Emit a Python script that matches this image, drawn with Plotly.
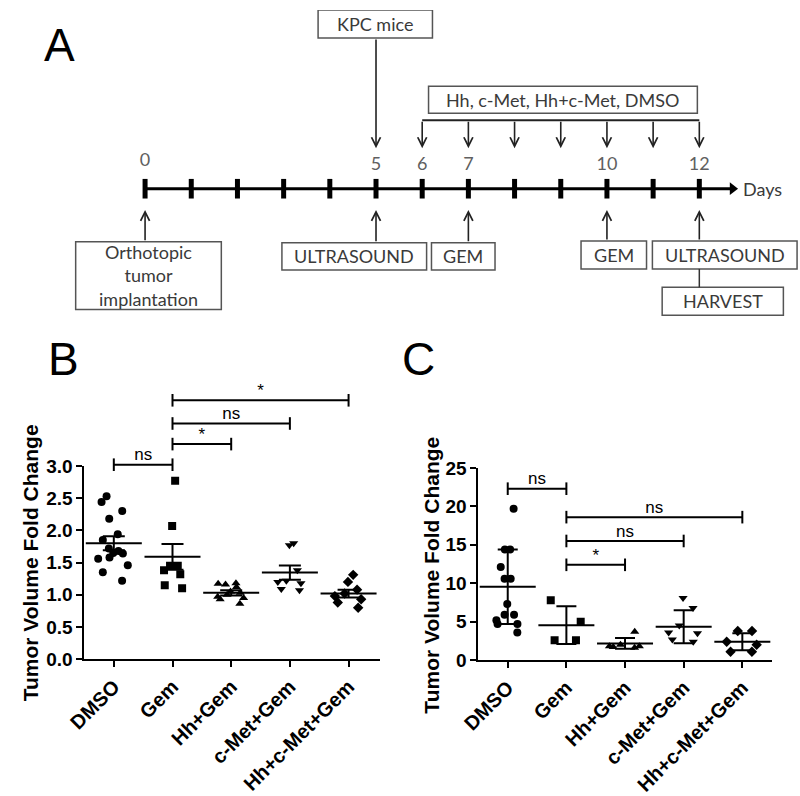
import plotly.graph_objects as go

# ---------------- data ----------------
groups = ["DMSO", "Gem", "Hh+Gem", "c-Met+Gem", "Hh+c-Met+Gem"]
symbols = ["circle", "square", "triangle-up", "triangle-down", "diamond"]

# Panel B: tumor volume fold change (mean +/- SEM)
b_dmso = [2.53, 2.44, 2.30, 2.18, 1.94, 1.85, 1.72, 1.68, 1.65, 1.64, 1.58, 1.56, 1.46, 1.35, 1.22]
b_gem = [2.77, 2.07, 1.45, 1.45, 1.38, 1.32, 1.15, 1.10]
b_hh = [1.18, 1.17, 1.16, 1.12, 1.05, 1.03, 1.00, 0.97, 0.95, 0.93, 0.86]
b_cmet = [1.80, 1.77, 1.38, 1.22, 1.20, 1.18, 1.09, 1.07]
b_hhcmet = [1.31, 1.20, 1.08, 1.02, 0.98, 0.93, 0.88, 0.80]
b_mean = [1.80, 1.59, 1.03, 1.345, 1.02]
b_err = [0.11, 0.20, 0.04, 0.11, 0.06]
b_sig_pairs = [(0, 1), (1, 2), (1, 3), (1, 4)]
b_sig_y = [3.02, 3.34, 3.66, 4.02]
b_sig_text = ["ns", "*", "ns", "*"]
b_yticks = [0.0, 0.5, 1.0, 1.5, 2.0, 2.5, 3.0]

# Panel C: tumor volume fold change (mean +/- SD)
c_dmso = [19.7, 14.4, 14.4, 12.1, 10.6, 10.6, 7.3, 5.9, 5.9, 5.2, 4.7, 4.7, 3.6]
c_gem = [7.8, 5.0, 2.6, 2.6]
c_hh = [3.7, 2.0, 1.8, 1.7, 1.6, 1.8]
c_cmet = [8.1, 6.8, 4.5, 3.6, 3.5, 2.7, 2.4]
c_hhcmet = [3.8, 3.8, 2.4, 2.0, 1.1, 1.1]
c_mean = [9.55, 4.55, 2.17, 4.35, 2.4]
c_err = [4.85, 2.45, 0.7, 2.15, 1.1]
c_sig_pairs = [(0, 1), (1, 2), (1, 3), (1, 4)]
c_sig_y = [22.3, 12.4, 15.5, 18.6]
c_sig_text = ["ns", "*", "ns", "ns"]
c_yticks = [0, 5, 10, 15, 20, 25]

# Panel A: timeline
timeline_days = list(range(13))
labeled_days = [0, 5, 6, 7, 10, 12]
treatment_days = [6, 7, 8, 9, 10, 11, 12]
kpc_day = 5
treatment_label = "Hh, c-Met, Hh+c-Met, DMSO"
event_days = [0, 5, 7, 10, 12]
event_labels = ["Orthotopic<br>tumor<br>implantation", "ULTRASOUND", "GEM", "GEM", "ULTRASOUND"]
harvest_label = "HARVEST"

# ---------------- layout geometry (pixels) ----------------
W, H = 800, 796
def px_x(p): return p / W
def px_y(p): return 1 - p / H

B_SCALE = 200 / 3.0  # px per unit
b_y0 = 672
b_sig_lo, b_sig_hi = 2.9, 4.3

fig = go.Figure()

XTICKFONT = dict(family="Liberation Sans, Arial", size=20, color="black", weight=700)
YTICKFONT = dict(family="Liberation Sans, Arial", size=19, color="black", weight=700)


def add_dotplot(values, means, errs, xa, ya, ya_sig, pairs, sig_y, sig_text, cap, msize, jit):
    for i, (vals, sym) in enumerate(zip(values, symbols)):
        fig.add_trace(go.Box(
            x=[i] * len(vals), y=vals, boxpoints="all", jitter=jit, pointpos=0, width=0.7,
            fillcolor="rgba(0,0,0,0)", line=dict(width=0, color="rgba(0,0,0,0)"),
            marker=dict(symbol=sym, size=msize, color="black"),
            xaxis=xa, yaxis=ya, showlegend=False, hoveron="points"))
    fig.add_trace(go.Scatter(
        x=list(range(len(means))), y=means, mode="markers",
        marker=dict(symbol="line-ew", size=40, color="black", line=dict(width=2, color="black")),
        error_y=dict(type="data", array=errs, visible=True, thickness=2, width=cap, color="black"),
        xaxis=xa, yaxis=ya, showlegend=False, cliponaxis=False))
    for (i, j), yv, t in zip(pairs, sig_y, sig_text):
        fig.add_trace(go.Scatter(
            x=[i, j], y=[yv, yv], mode="lines+markers",
            line=dict(width=2, color="black"),
            marker=dict(symbol="line-ns", size=9, color="black", line=dict(width=2, color="black")),
            xaxis=xa, yaxis=ya_sig, showlegend=False, cliponaxis=False))
        fig.add_trace(go.Scatter(
            x=[(i + j) / 2], y=[yv], mode="text", text=[t], textposition="top center",
            textfont=dict(family="Liberation Sans, Arial", size=17, color="black"),
            xaxis=xa, yaxis=ya_sig, showlegend=False, cliponaxis=False))


add_dotplot([b_dmso, b_gem, b_hh, b_cmet, b_hhcmet], b_mean, b_err, "x", "y", "y5",
            b_sig_pairs, b_sig_y, b_sig_text, cap=11, msize=8, jit=0.9)
add_dotplot([c_dmso, c_gem, c_hh, c_cmet, c_hhcmet], c_mean, c_err, "x2", "y2", "y2",
            c_sig_pairs, c_sig_y, c_sig_text, cap=10, msize=8, jit=0.9)

# ---------------- panel A (days on x, pixel rows on y) ----------------
A_X0, A_DX = 130, 47.25
def day_of(p): return (p - A_X0) / A_DX

LINE_Y = 185
fig.add_trace(go.Scatter(
    x=[timeline_days[0], day_of(730)], y=[LINE_Y, LINE_Y], mode="lines",
    line=dict(color="black", width=3), xaxis="x3", yaxis="y3", showlegend=False))
fig.add_trace(go.Scatter(
    x=[day_of(731)], y=[LINE_Y], mode="markers",
    marker=dict(symbol="triangle-right", size=11, color="black"),
    xaxis="x3", yaxis="y3", showlegend=False))
fig.add_trace(go.Scatter(
    x=timeline_days, y=[LINE_Y] * len(timeline_days), mode="markers",
    marker=dict(symbol="line-ns", size=14, color="black", line=dict(width=5, color="black")),
    xaxis="x3", yaxis="y3", showlegend=False))
fig.add_trace(go.Scatter(
    x=labeled_days, y=[157 if d == 0 else 161 for d in labeled_days], mode="text",
    text=[str(d) for d in labeled_days],
    textfont=dict(family="Lato", size=18, color="#606060"),
    xaxis="x3", yaxis="y3", showlegend=False))
# treatment bracket
fig.add_trace(go.Scatter(
    x=[treatment_days[0], treatment_days[-1]], y=[114, 114], mode="lines",
    line=dict(color="#222", width=2), xaxis="x3", yaxis="y3", showlegend=False))
# connector ultrasound -> harvest
fig.add_trace(go.Scatter(
    x=[event_days[-1], event_days[-1]], y=[268, 287], mode="lines",
    line=dict(color="#333", width=1.5), xaxis="x3", yaxis="y3", showlegend=False))

ARROW = dict(xref="x3", yref="y3", axref="x3", ayref="y3", text="", showarrow=True,
             arrowhead=5, arrowsize=1.1, arrowwidth=1.6, arrowcolor="#222", standoff=0)
annotations = []
annotations.append(dict(x=kpc_day, y=143, ax=kpc_day, ay=29, **ARROW))
for d in treatment_days:
    annotations.append(dict(x=d, y=143, ax=d, ay=114, **ARROW))
for d, ytail in zip(event_days, [240, 241, 241, 239, 239]):
    annotations.append(dict(x=d, y=207, ax=d, ay=ytail, **ARROW))

BOXTXT = dict(family="Lato", size=18, color="#3a3a3a")
boxes = [
    # (x0px, x1px, y0px, y1px, text)
    (59, 208, 240, 310, event_labels[0]),
    (270, 418, 241, 269, event_labels[1]),
    (423, 488, 241, 269, event_labels[2]),
    (576, 643, 239, 268, event_labels[3]),
    (649, 797, 239, 268, event_labels[4]),
    (659, 783, 287, 316, harvest_label),
    (307, 424, 0, 29, "KPC mice"),
    (420, 695, 79, 107, treatment_label),
]
shapes = []
for x0, x1, y0, y1, t in boxes:
    shapes.append(dict(type="rect", xref="x3", yref="y3", x0=day_of(x0), x1=day_of(x1),
                       y0=y0, y1=y1, line=dict(color="#555", width=1.5), fillcolor="white",
                       layer="below"))
    annotations.append(dict(x=day_of((x0 + x1) / 2), y=(y0 + y1) / 2, xref="x3", yref="y3",
                            text=t, showarrow=False, font=BOXTXT, align="center",
                            xanchor="center", yanchor="middle"))
annotations.append(dict(x=day_of(740), y=LINE_Y, xref="x3", yref="y3", text="Days",
                        showarrow=False, xanchor="left", yanchor="middle", font=BOXTXT))

# panel letters
for txt, cx, cy in [("A", 42, 36), ("B", 47, 361), ("C", 410, 361)]:
    annotations.append(dict(x=px_x(cx), y=px_y(cy), xref="paper", yref="paper", text=txt,
                            showarrow=False, xanchor="center", yanchor="middle",
                            font=dict(family="Liberation Sans, Arial", size=46, color="black")))
# y-axis titles
for cx, cy in [(13, 572), (423, 585)]:
    annotations.append(dict(x=px_x(cx), y=px_y(cy), xref="paper", yref="paper",
                            text="Tumor Volume Fold Change", textangle=-90, showarrow=False,
                            xanchor="center", yanchor="middle",
                            font=dict(family="Liberation Sans, Arial", size=21, color="black",
                                      weight=700)))

AX = dict(showgrid=False, zeroline=False, showline=True, linewidth=2, linecolor="black",
          ticks="outside", tickwidth=2, ticklen=6, tickcolor="black")

fig.update_layout(
    width=W, height=H, margin=dict(l=0, r=0, t=0, b=0),
    paper_bgcolor="white", plot_bgcolor="rgba(0,0,0,0)", showlegend=False,
    shapes=shapes, annotations=annotations,
    xaxis=dict(domain=[px_x(68), px_x(370)], range=[-0.5, 4.53], anchor="y",
               tickvals=list(range(5)), ticktext=groups, tickangle=-45, tickfont=XTICKFONT, **AX),
    yaxis=dict(domain=[px_y(b_y0), px_y(b_y0 - 3.0 * B_SCALE)], range=[0, 3.0], anchor="x",
               tickvals=b_yticks, tickformat=".1f", tickfont=YTICKFONT, **AX),
    yaxis5=dict(domain=[px_y(b_y0 - b_sig_lo * B_SCALE), px_y(b_y0 - b_sig_hi * B_SCALE)],
                range=[b_sig_lo, b_sig_hi], anchor="x", visible=False),
    xaxis2=dict(domain=[px_x(471), px_x(771)], range=[-0.5, 4.5], anchor="y2",
                tickvals=list(range(5)), ticktext=groups, tickangle=-45, tickfont=XTICKFONT, **AX),
    yaxis2=dict(domain=[px_y(673), px_y(474)], range=[0, 25], anchor="x2",
                tickvals=c_yticks, tickfont=YTICKFONT, **AX),
    xaxis3=dict(domain=[0, 1], range=[day_of(0), day_of(W)], anchor="y3", visible=False),
    yaxis3=dict(domain=[0, 1], range=[H, 0], anchor="x3", visible=False),
)

fig.write_html("out.html", config={"displayModeBar": False},
               post_script="document.body.style.margin='0';")
